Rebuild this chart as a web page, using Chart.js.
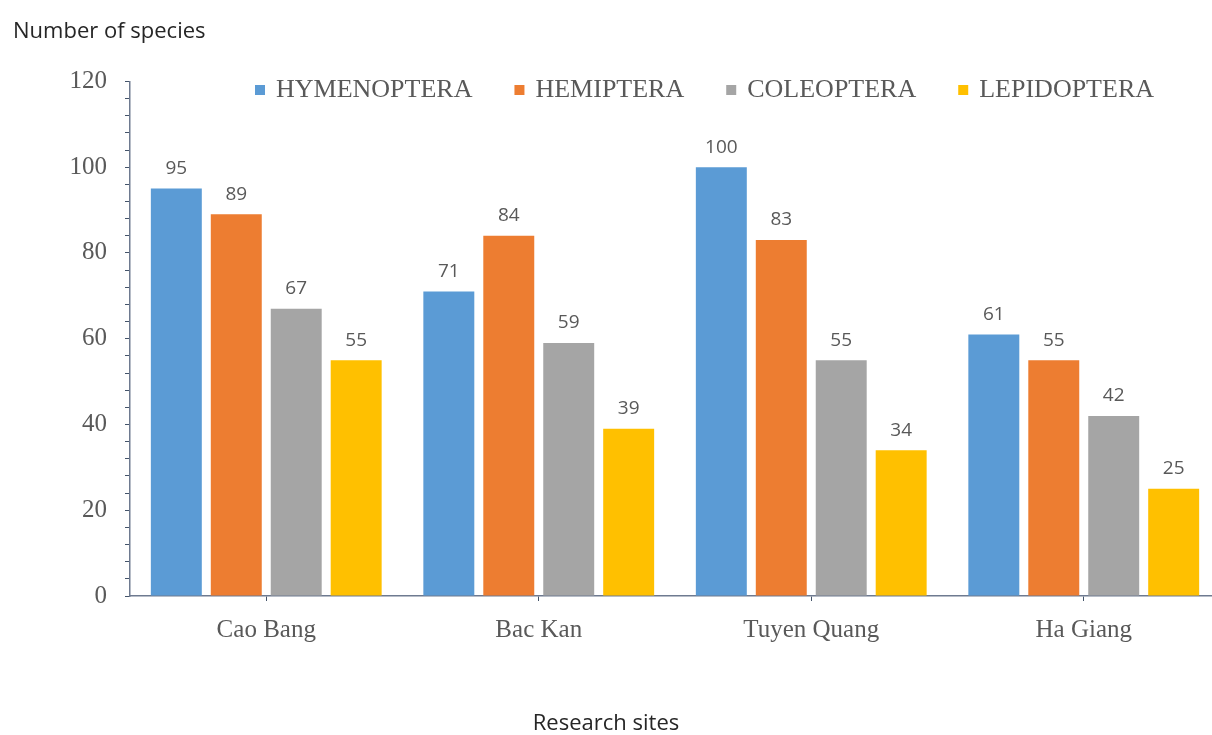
<!DOCTYPE html>
<html>
<head>
<meta charset="utf-8">
<script src="https://cdn.jsdelivr.net/npm/chart.js@4.4.0/dist/chart.umd.min.js"></script>
<style>
  body { margin: 0; background: #fff; overflow: hidden; }
</style>
</head>
<body>
<canvas id="chart" width="1220" height="735"></canvas>
<script>
const sites = ["Cao Bang", "Bac Kan", "Tuyen Quang", "Ha Giang"];
const hymenoptera = [95, 71, 100, 61];
const hemiptera = [89, 84, 83, 55];
const coleoptera = [67, 59, 55, 42];
const lepidoptera = [55, 39, 34, 25];
const yTicks = [0, 20, 40, 60, 80, 100, 120];

const serif = "'Liberation Serif', 'Times New Roman', serif";
const sans = "'Open Sans', 'Noto Sans', sans-serif";

// Legend drawn inside the plot, along the top edge
const insideLegend = {
    id: 'insideLegend',
    afterDraw(chart) {
        const ctx = chart.ctx;
        ctx.save();
        ctx.font = "26px " + serif;
        ctx.textBaseline = "middle";
        let x = 255;
        const y = 90;
        chart.data.datasets.forEach(ds => {
            ctx.fillStyle = ds.backgroundColor;
            ctx.fillRect(x, y - 5, 10, 10);
            ctx.fillStyle = "#595959";
            ctx.fillText(ds.label, x + 21, y);
            x += 21 + ctx.measureText(ds.label).width + 42;
        });
        ctx.restore();
    }
};

// Value above each bar
const valueLabels = {
    id: 'valueLabels',
    afterDatasetsDraw(chart) {
        const ctx = chart.ctx;
        ctx.save();
        ctx.font = "19px " + sans;
        ctx.fillStyle = "#595959";
        ctx.textAlign = "center";
        ctx.textBaseline = "middle";
        chart.data.datasets.forEach((ds, i) => {
            chart.getDatasetMeta(i).data.forEach((bar, j) => {
                ctx.fillText(ds.data[j], bar.x, bar.y - 20);
            });
        });
        ctx.restore();
    }
};

// X axis title, centred on the whole page rather than the plot
const bottomTitle = {
    id: 'bottomTitle',
    afterDraw(chart) {
        const ctx = chart.ctx;
        ctx.save();
        ctx.font = "22px " + sans;
        ctx.fillStyle = "#262626";
        ctx.textAlign = "center";
        ctx.textBaseline = "middle";
        ctx.fillText("Research sites", 606, 724);
        ctx.restore();
    }
};

new Chart(document.getElementById("chart"), {
    type: 'bar',
    data: {
        labels: sites,
        datasets: [
            { label: "HYMENOPTERA", data: hymenoptera, backgroundColor: "#5B9BD5" },
            { label: "HEMIPTERA", data: hemiptera, backgroundColor: "#ED7D31" },
            { label: "COLEOPTERA", data: coleoptera, backgroundColor: "#A5A5A5" },
            { label: "LEPIDOPTERA", data: lepidoptera, backgroundColor: "#FFC000" }
        ]
    },
    options: {
        responsive: false,
        animation: false,
        devicePixelRatio: 1,
        layout: { padding: { left: 13, right: 0, top: 0, bottom: 0 } },
        datasets: {
            bar: { categoryPercentage: 0.88, barPercentage: 0.85 }
        },
        plugins: {
            legend: { display: false },
            tooltip: { enabled: false },
            title: {
                display: true,
                text: "Number of species",
                align: "start",
                color: "#262626",
                font: { family: sans, size: 22, weight: "normal" },
                padding: { top: 19, bottom: 36 }
            }
        },
        scales: {
            x: {
                grid: { drawOnChartArea: false, tickLength: 5, offset: false, color: "#44546A" },
                border: { color: "#6E7A90", width: 1.5 },
                ticks: { color: "#595959", font: { family: serif, size: 25 }, padding: 14 },
                afterFit(scale) { scale.height = 139; }
            },
            y: {
                min: yTicks[0],
                max: yTicks[yTicks.length - 1],
                grid: { drawOnChartArea: false, tickLength: 5, color: "#44546A" },
                border: { color: "#6E7A90", width: 1.5 },
                ticks: {
                    stepSize: 4,
                    autoSkip: false,
                    maxTicksLimit: 31,
                    padding: 18,
                    color: "#595959",
                    font: { family: serif, size: 25 },
                    callback: v => yTicks.includes(v) ? v : ""
                },
                afterFit(scale) { scale.width = 117; }
            }
        }
    },
    plugins: [valueLabels, insideLegend, bottomTitle]
});
</script>
</body>
</html>
